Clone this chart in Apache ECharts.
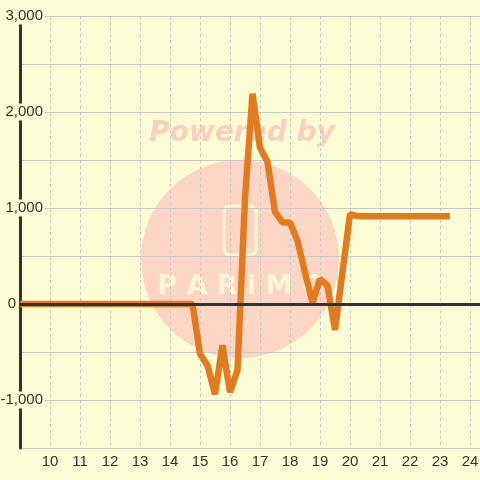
<!DOCTYPE html>
<html>
<head>
<meta charset="utf-8">
<script src="https://cdn.jsdelivr.net/npm/echarts@6/dist/echarts.min.js"></script>
<style>
  html, body { margin: 0; padding: 0; background: #fbfcd3; }
  #chart { width: 480px; height: 480px; }
</style>
</head>
<body>
<div id="chart"></div>
<script>
// Data
const xValues = [9, 14.75, 15.0, 15.25, 15.5, 15.75, 16.0, 16.25, 16.5, 16.75, 17.0, 17.25, 17.5, 17.75, 18.0, 18.25, 18.5, 18.75, 19.0, 19.25, 19.5, 20.0, 20.25, 23.33];
const yValues = [0, 0, -520, -640, -940, -430, -920, -690, 1100, 2190, 1630, 1480, 960, 850, 850, 660, 330, 10, 260, 190, -270, 935, 915, 915];
const xTickLabels = ['10', '11', '12', '13', '14', '15', '16', '17', '18', '19', '20', '21', '22', '23', '24'];
const yTickLabels = ['-1,000', '0', '1,000', '2,000', '3,000'];

const BG = '#fbfcd3';
const FONT = '"Liberation Sans", Arial, sans-serif';

const seriesData = xValues.map((x, i) => [x, yValues[i]]);

const chart = echarts.init(document.getElementById('chart'), null, { renderer: 'canvas' });
chart.setOption({
  backgroundColor: BG,
  animation: false,
  grid: { left: 20, right: 0, top: 16, bottom: 32, containLabel: false, outerBoundsMode: 'none' },
  xAxis: {
    type: 'value',
    min: 9,
    max: 9 + 460 / 30,
    interval: 1,
    axisLine: { show: false },
    axisTick: { show: false },
    splitLine: { show: true, lineStyle: { color: '#c8c8c8', width: 1, type: [3, 3] } },
    axisLabel: {
      show: true,
      margin: 6,
      color: '#333',
      fontSize: 15,
      fontFamily: FONT,
      showMinLabel: false,
      showMaxLabel: false,
      formatter: function (v) {
        const s = String(Math.round(v));
        return (Math.abs(v - Math.round(v)) < 1e-6 && xTickLabels.indexOf(s) >= 0) ? s : '';
      }
    }
  },
  yAxis: {
    type: 'value',
    min: -1500,
    max: 3000,
    interval: 500,
    axisLine: { show: true, onZero: false, lineStyle: { color: '#333', width: 3 } },
    axisTick: { show: false },
    splitLine: { show: true, lineStyle: { color: '#c8c8c8', width: 1 } },
    axisLabel: {
      show: true,
      margin: -25,
      align: 'right',
      color: '#333',
      fontSize: 15,
      fontFamily: FONT,
      formatter: function (v) {
        if (v % 1000 !== 0) return '';
        const s = v.toLocaleString('en-US');
        if (yTickLabels.indexOf(s) < 0) return '';
        if (v === 0) return '{z|' + s + '}';
        return '{a|' + s + '}';
      },
      rich: {
        a: { color: '#333', fontSize: 15, fontFamily: FONT, backgroundColor: BG, padding: [1, 2, 1, 2] },
        z: { color: '#333', fontSize: 15, fontFamily: FONT, padding: [0, 29, 0, 0] }
      }
    }
  },
  graphic: {
    elements: [
      { type: 'circle', z: -10, silent: true, shape: { cx: 240, cy: 259, r: 99 }, style: { fill: '#fcd5c4' } },
      { type: 'text', z: -10, silent: true, x: 242, y: 134,
        style: { text: 'Powered by', fill: '#f9d0bf', font: 'italic bold 28px "DejaVu Sans"', align: 'center', verticalAlign: 'middle' } },
      { type: 'rect', z: -9, silent: true, shape: { x: 224, y: 206, width: 32, height: 49, r: 6 },
        style: { fill: 'none', stroke: '#fdf6d4', lineWidth: 3 } },
      { type: 'text', z: -9, silent: true, x: 241, y: 287,
        style: { text: 'P A R i M O', fill: '#fdf6d4', font: 'bold 27px "DejaVu Sans"', align: 'center', verticalAlign: 'middle' } }
    ]
  },
  series: [
    {
      type: 'line',
      z: 1,
      data: [],
      silent: true,
      markLine: {
        silent: true,
        symbol: 'none',
        label: { show: false },
        lineStyle: { color: '#333', width: 3, type: 'solid' },
        data: [{ yAxis: 0 }]
      }
    },
    {
      type: 'line',
      z: 3,
      data: seriesData,
      showSymbol: false,
      symbol: 'none',
      lineStyle: { color: '#e07b22', width: 6.5, join: 'bevel' },
      itemStyle: { color: '#e07b22' }
    }
  ]
});
</script>
</body>
</html>
